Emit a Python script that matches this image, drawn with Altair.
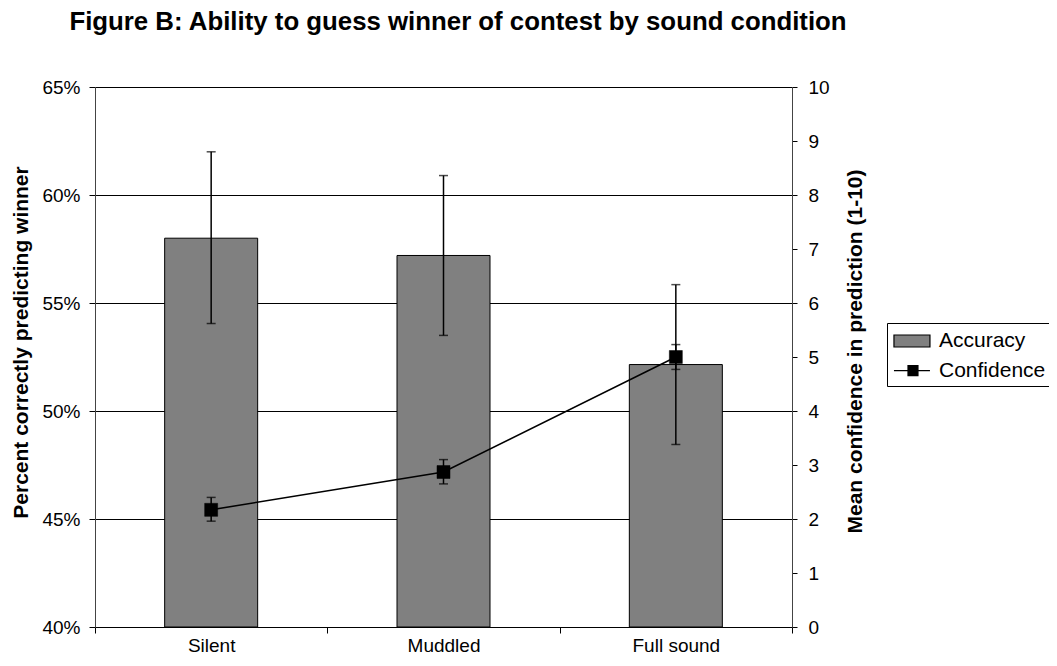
import altair as alt
import pandas as pd

conditions = ["Silent", "Muddled", "Full sound"]
accuracy = [58.0, 57.2, 52.15]
acc_lo = [54.05, 53.5, 48.45]
acc_hi = [62.0, 60.9, 55.85]
confidence = [2.17, 2.87, 5.0]
conf_lo = [1.96, 2.65, 4.77]
conf_hi = [2.40, 3.10, 5.23]
series_names = ["Accuracy", "Confidence"]
series_colors = ["#808080", "#000000"]
series_symbols = ["M-0.92,-0.5H2.08V0.5H-0.92Z", "M-0.92,0H2.08M0.25,-0.42H1.08V0.42H0.25Z"]
left_ticks = [40, 45, 50, 55, 60, 65]
right_ticks = list(range(0, 11))

FONT = "Liberation Sans"

acc_df = pd.DataFrame({"cond": conditions, "acc": accuracy, "lo": acc_lo, "hi": acc_hi})
conf_df = pd.DataFrame({"cond": conditions, "conf": confidence, "lo": conf_lo, "hi": conf_hi})
legend_df = pd.DataFrame({"cond": [conditions[0]] * 2, "series": series_names})

xscale = alt.Scale(domain=conditions, paddingInner=0, paddingOuter=0)
x_axis = alt.Axis(labelAngle=0, tickBand="extent", tickSize=6, tickColor="black",
                  domainColor="black", labelFontSize=19, labelFont=FONT,
                  labelColor="black", labelPadding=3, grid=False)
X = alt.X("cond:N", scale=xscale, sort=conditions, title=None, axis=x_axis)

acc_scale = alt.Scale(domain=[40, 65], nice=False, zero=False)
conf_scale = alt.Scale(domain=[0, 10], nice=False, zero=False)
ACC_TITLE = "Percent correctly predicting winner"
CONF_TITLE = "Mean confidence in prediction (1-10)"

acc_axis = alt.Axis(orient="left", values=left_ticks, labelExpr="datum.value + '%'",
                    grid=True, gridColor="black", gridWidth=1, tickSize=6,
                    tickColor="black", domainColor="#444444", labelFontSize=19,
                    labelFont=FONT, labelColor="black", labelPadding=9,
                    titleFontSize=21, titleFont=FONT, titleFontWeight="bold",
                    titleColor="black", titleAngle=270, titleAlign="center",
                    titleBaseline="middle", titleX=-74, titleY=255)
conf_axis = alt.Axis(orient="right", values=right_ticks, grid=False, tickSize=5,
                     tickColor="black", domainColor="#444444", labelFontSize=19,
                     labelFont=FONT, labelColor="black", labelPadding=11,
                     titleFontSize=21, titleFont=FONT, titleFontWeight="bold",
                     titleColor="black", titleAngle=270, titleAlign="center",
                     titleBaseline="middle", titleX=63, titleY=264)


def ya(field):
    return alt.Y(field, type="quantitative", scale=acc_scale, title=ACC_TITLE, axis=acc_axis)


def yc(field):
    return alt.Y(field, type="quantitative", scale=conf_scale, title=CONF_TITLE, axis=conf_axis)


bars = alt.Chart(acc_df).mark_bar(width=93, fill="#808080", stroke="black", strokeWidth=1).encode(
    x=X, y=ya("acc"), y2=alt.datum(40))
acc_rule = alt.Chart(acc_df).mark_rule(color="black", strokeWidth=1.5).encode(
    x=X, y=ya("lo"), y2="hi:Q")
acc_cap_lo = alt.Chart(acc_df).mark_tick(color="black", size=9, thickness=1.5, orient="horizontal").encode(
    x=X, y=ya("lo"))
acc_cap_hi = alt.Chart(acc_df).mark_tick(color="black", size=9, thickness=1.5, orient="horizontal").encode(
    x=X, y=ya("hi"))

acc_layer = alt.layer(bars, acc_rule, acc_cap_lo, acc_cap_hi)

line = alt.Chart(conf_df).mark_line(color="black", strokeWidth=1.5).encode(
    x=X, y=yc("conf"))
conf_rule = alt.Chart(conf_df).mark_rule(color="black", strokeWidth=1.5).encode(
    x=X, y=yc("lo"), y2="hi:Q")
conf_cap_lo = alt.Chart(conf_df).mark_tick(color="black", size=9, thickness=1.5, orient="horizontal").encode(
    x=X, y=yc("lo"))
conf_cap_hi = alt.Chart(conf_df).mark_tick(color="black", size=9, thickness=1.5, orient="horizontal").encode(
    x=X, y=yc("hi"))

points = alt.Chart(conf_df).mark_point(shape="square", filled=True, size=169, opacity=1,
                                       fill="black", stroke="black", strokeWidth=0.5).encode(
    x=X, y=yc("conf"))

legend = alt.Legend(
    title=None, orient="none", legendX=792, legendY=236,
    strokeColor="black", fillColor="white", padding=5, rowPadding=6.6,
    labelFontSize=21, labelFont=FONT, labelColor="black", labelOffset=21,
    symbolSize=576, symbolStrokeColor="black", symbolStrokeWidth=1.2, symbolOpacity=1,
)

legend_layer = alt.Chart(legend_df).mark_point(filled=False, clip=True, opacity=1,
                                               strokeWidth=1.2).encode(
    x=X,
    y=alt.Y(datum=-100, type="quantitative", scale=conf_scale, title=CONF_TITLE, axis=conf_axis),
    fill=alt.Fill("series:N", scale=alt.Scale(domain=series_names, range=series_colors),
                  legend=legend),
    stroke=alt.Stroke("series:N", scale=alt.Scale(domain=series_names, range=["#000000", "#000000"]),
                      legend=legend),
    shape=alt.Shape("series:N", scale=alt.Scale(domain=series_names, range=series_symbols),
                    legend=legend),
)

conf_layer = alt.layer(line, conf_rule, conf_cap_lo, conf_cap_hi, points, legend_layer)

chart = alt.layer(acc_layer, conf_layer).resolve_scale(y="independent").properties(
    width=697, height=540,
    autosize=alt.AutoSizeParams(type="none"),
    padding={"left": 87, "top": 79, "right": 257, "bottom": 31},
    title=alt.Title("Figure B: Ability to guess winner of contest by sound condition",
                    font=FONT, fontSize=25.8, fontWeight="bold", color="black",
                    anchor="middle", frame="group", dx=14.5, offset=22, baseline="alphabetic"),
).configure(font=FONT).configure_view(stroke=None)

chart.save("out.html", embed_options={"renderer": "svg", "actions": False})
